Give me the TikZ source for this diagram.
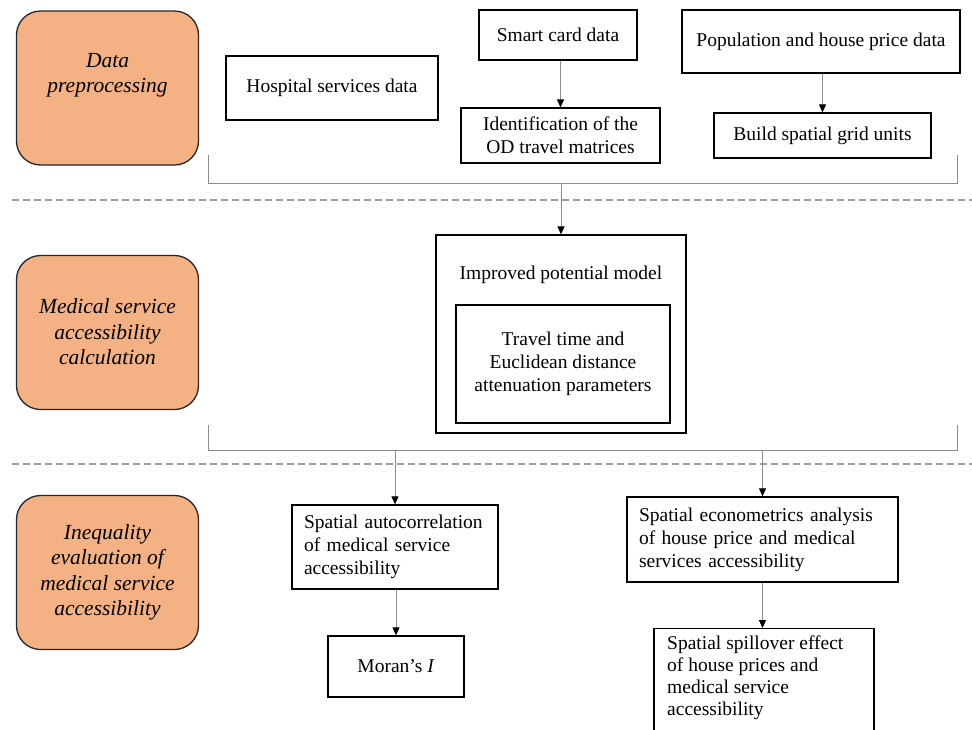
\documentclass[tikz,border=0pt]{standalone}
\usepackage{fontspec}
\setmainfont{Liberation Serif}
\usetikzlibrary{arrows.meta}
\definecolor{stagefill}{HTML}{F4B183}
\definecolor{linegray}{HTML}{8C8C8C}
\begin{document}
\begin{tikzpicture}[x=1pt,y=-1pt,
 box/.style={draw=black, line width=1.3pt, fill=white, inner sep=0pt, font=\fontsize{19.5}{23}\selectfont, align=center},
 ltext/.style={box, align=left, inner xsep=12pt},
 txt/.style={inner sep=0pt, font=\fontsize{19.5}{22}\selectfont, align=center},
 stage/.style={draw=black!85, line width=1.3pt, fill=stagefill, rounded corners=24pt, minimum width=182pt, minimum height=154pt},
 stagetxt/.style={inner sep=0pt, font=\fontsize{21.5}{25.5}\selectfont\itshape, align=center},
 conn/.style={draw=linegray, line width=1pt},
 arr/.style={conn, -{Triangle[length=8pt,width=7pt,color=black]}},
 sep/.style={draw=linegray!85, line width=1.3pt, dash pattern=on 7pt off 4pt}]
\useasboundingbox (0,0) rectangle (972,729);
\fill[white] (0,0) rectangle (972,729);

% stages
\node[stage] (s1) at (107.5,88) {};
\node[stagetxt] (s1t) at (107.5,75) {Data\\preprocessing};
\node[stage] (s2) at (107.5,332.5) {};
\node[stagetxt] (s2t) at (107.5,332) {Medical service\\accessibility\\calculation};
\node[stage] (s3) at (107.5,572.5) {};
\node[stagetxt] (s3t) at (107.5,572.5) {Inequality\\evaluation of\\medical service\\accessibility};

% separators
\coordinate (d1l) at (12,200); \coordinate (d1r) at (972,200);
\coordinate (d2l) at (12,464); \coordinate (d2r) at (972,464);
\draw[sep] (d1l) -- (d1r);
\draw[sep] (d2l) -- (d2r);

% row 1
\node[box, minimum width=212pt, minimum height=64pt] (hosp) at (332,88) {Hospital services data};
\node[box, minimum width=158pt, minimum height=50pt] (smart) at (558,35) {Smart card data};
\node[box, minimum width=199pt, minimum height=55pt] (od) at (560.5,135.5) {Identification of the\\OD travel matrices};
\node[box, minimum width=278pt, minimum height=63pt] (pop) at (821,41.5) {Population and house price data};
\node[box, minimum width=217pt, minimum height=45pt] (grid) at (822.5,135.5) {Build spatial grid units};
\draw[arr] (od.north |- smart.south) -- (od.north);
\draw[arr] (grid.north |- pop.south) -- (grid.north);

% row 2
\node[box, minimum width=250pt, minimum height=198pt] (outer) at (561,334) {};
\node[txt] (outert) at (561,275) {Improved potential model};
\node[box, minimum width=214pt, minimum height=118pt] (inner) at (563,364) {Travel time and\\Euclidean distance\\attenuation parameters};

% bracket 1
\coordinate (b1l) at (208,155); \coordinate (b1lc) at (208,183);
\coordinate (b1r) at (957,155); \coordinate (b1rc) at (957,183);
\draw[conn] (b1l) -- (b1lc) -- (b1rc) -- (b1r);
\draw[arr] (outer.north |- b1lc) -- (outer.north);

% row 3
\node[ltext, text width=182pt, minimum height=84pt] (auto) at (395,547) {Spatial autocorrelation\\of medical service\\accessibility};
\node[box, minimum width=136pt, minimum height=61pt] (moran) at (396,666.5) {Moran's \textit{I}};
\node[ltext, text width=247pt, minimum height=85pt] (econ) at (762.5,539.5) {Spatial econometrics analysis\\of house price and medical\\services accessibility};
\node[box, minimum width=220pt, minimum height=120pt, anchor=north] (spill) at (764,628) {};
\node[txt, align=left, anchor=north west] (spillt) at (667,636) {Spatial spillover effect\\of house prices and\\medical service\\accessibility};

% bracket 2
\coordinate (b2l) at (208,425); \coordinate (b2lc) at (208,450);
\coordinate (b2r) at (957,425); \coordinate (b2rc) at (957,450);
\draw[conn] (b2l) -- (b2lc) -- (b2rc) -- (b2r);
\draw[arr] (auto.north |- b2lc) -- (auto.north);
\draw[arr] (econ.north |- b2lc) -- (econ.north);

\draw[arr] (moran.north |- auto.south) -- (moran.north);
\draw[arr] (econ.south) -- (econ.south |- spill.north);
\end{tikzpicture}
\end{document}
